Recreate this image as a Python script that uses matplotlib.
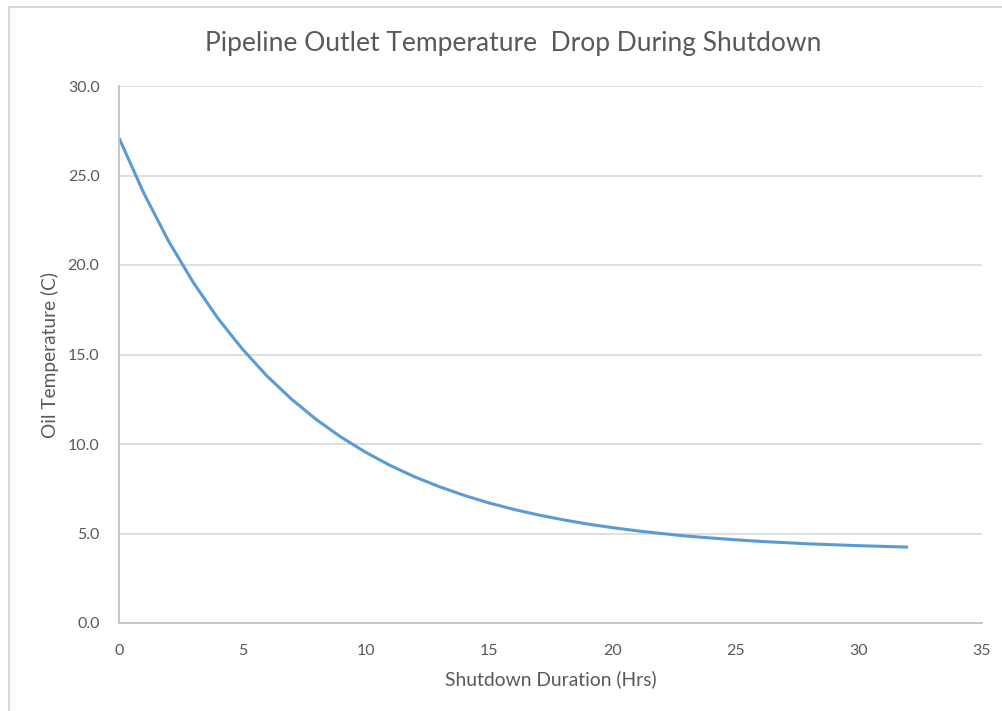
import matplotlib
matplotlib.use("Agg")
import matplotlib.pyplot as plt
from matplotlib.ticker import FormatStrFormatter, MultipleLocator
from matplotlib.patches import Rectangle

# Outlet temperature (C) versus hours since shutdown
hours = list(range(0, 33))
temps = [27.10, 24.03, 21.36, 19.05, 17.04, 15.31, 13.80, 12.50, 11.37, 10.39,
         9.54, 8.80, 8.16, 7.61, 7.13, 6.71, 6.35, 6.04, 5.77, 5.53,
         5.33, 5.15, 5.00, 4.86, 4.75, 4.65, 4.56, 4.49, 4.42, 4.37,
         4.32, 4.28, 4.24]

title = "Pipeline Outlet Temperature  Drop During Shutdown"
x_label = "Shutdown Duration (Hrs)"
y_label = "Oil Temperature (C)"

plt.rcParams["font.family"] = ["Lato", "DejaVu Sans"]
text_color = "#595959"

fig = plt.figure(figsize=(10.03, 7.11), dpi=100)
fig.patch.set_facecolor("white")

# outer chart frame (top and left edges visible)
fig.add_artist(Rectangle((9 / 1003, -0.05), 1.2, 1 - 7 / 711 + 0.05,
                         transform=fig.transFigure, fill=False,
                         edgecolor="#d9d9d9", linewidth=1.5))

ax = fig.add_axes([119 / 1003, 1 - 623 / 711, (982 - 119) / 1003, (623 - 86) / 711])
ax.plot(hours, temps, color="#5b9bd5", linewidth=2.2, solid_capstyle="butt")

ax.set_xlim(0, 35)
ax.set_ylim(0, 30)
ax.xaxis.set_major_locator(MultipleLocator(5))
ax.yaxis.set_major_locator(MultipleLocator(5))
ax.yaxis.set_major_formatter(FormatStrFormatter("%.1f"))

ax.grid(axis="y", color="#d9d9d9", linewidth=1.2)
ax.set_axisbelow(True)
for side in ("top", "right"):
    ax.spines[side].set_visible(False)
for side in ("left", "bottom"):
    ax.spines[side].set_color("#bfbfbf")
    ax.spines[side].set_linewidth(1.2)

ax.tick_params(length=0, labelsize=11.5, colors=text_color)
ax.tick_params(axis="x", pad=15)
ax.tick_params(axis="y", pad=14)

ax.set_xlabel(x_label, fontsize=13.9, color=text_color, labelpad=9)
ax.set_ylabel(y_label, fontsize=13.8, color=text_color, labelpad=6)
fig.text(0.512, 1 - 43 / 711, title, ha="center", va="center",
         fontsize=19, color=text_color)

fig.savefig("out.png", dpi=100)
